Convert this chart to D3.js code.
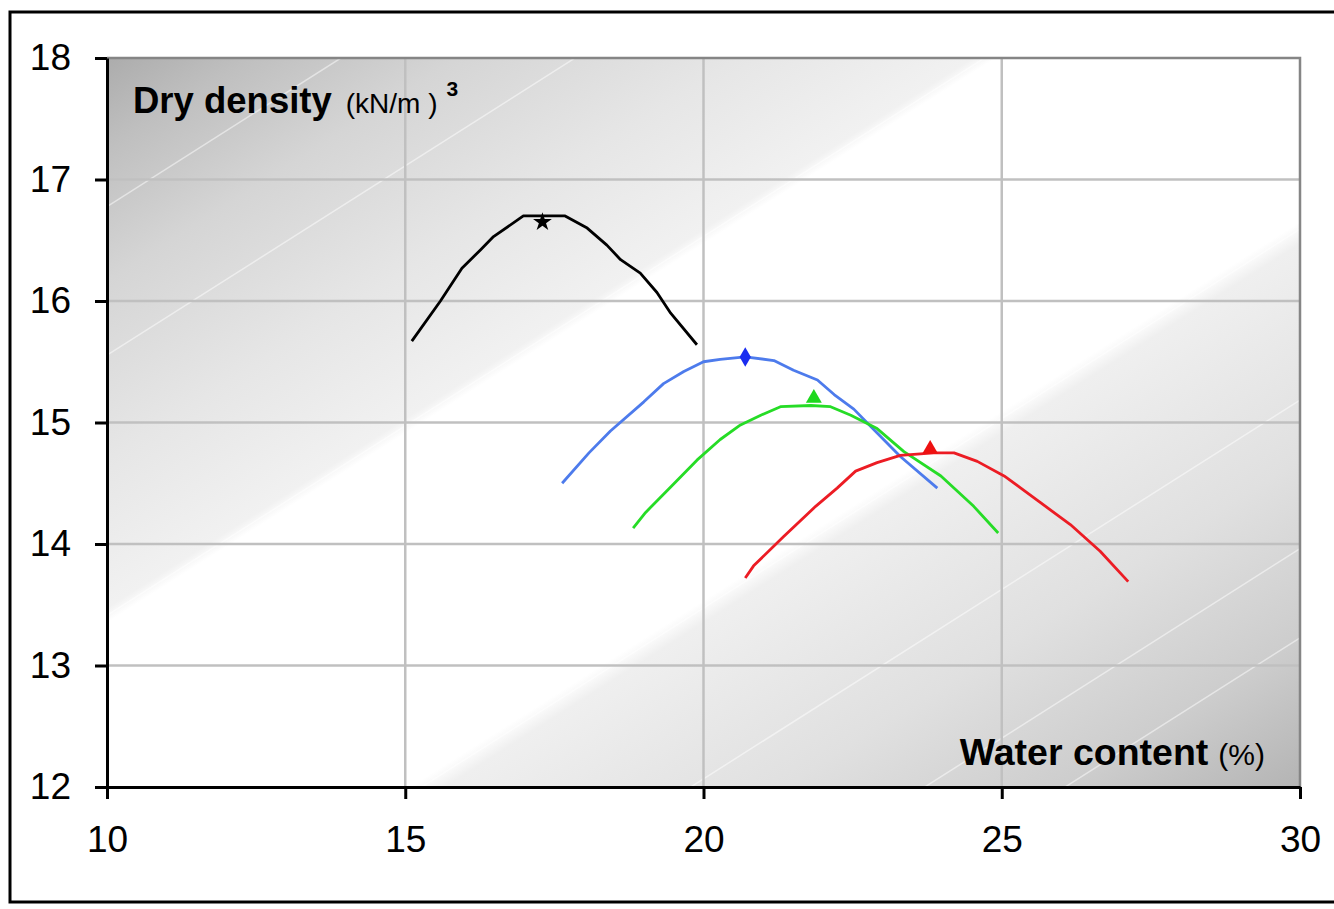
<!DOCTYPE html>
<html>
<head>
<meta charset="utf-8">
<script src="https://cdn.jsdelivr.net/npm/d3@7"></script>
<style>
  body { margin: 0; background: #fff; }
  text { font-family: "Liberation Sans", Arial, sans-serif; }
</style>
</head>
<body>
<script>
// compaction curves: water content (%) vs dry density (kN/m3)
var xTicks = [10, 15, 20, 25, 30];
var yTicks = [12, 13, 14, 15, 16, 17, 18];

var curveBlack = [[15.11,15.67],[15.59,16.0],[15.95,16.27],[16.26,16.42],[16.48,16.53],[16.98,16.70],
  [17.35,16.70],[17.68,16.70],[18.05,16.60],[18.38,16.46],[18.61,16.34],[18.94,16.23],[19.22,16.07],
  [19.45,15.90],[19.89,15.64]];
var curveBlue = [[17.63,14.50],[18.08,14.75],[18.44,14.93],[19.0,15.17],[19.33,15.32],[19.67,15.42],
  [20.0,15.50],[20.28,15.52],[20.70,15.54],[21.18,15.51],[21.51,15.43],[21.91,15.35],[22.19,15.23],
  [22.52,15.11],[22.80,14.97],[23.30,14.72],[23.92,14.46]];
var curveGreen = [[18.82,14.13],[19.03,14.26],[19.45,14.47],[19.89,14.69],[20.28,14.86],[20.62,14.98],
  [20.96,15.06],[21.29,15.13],[21.80,15.14],[22.13,15.13],[22.47,15.06],[22.91,14.95],[23.36,14.76],
  [23.98,14.56],[24.53,14.31],[24.94,14.09]];
var curveRed = [[20.70,13.72],[20.84,13.82],[21.34,14.06],[21.88,14.31],[22.24,14.46],[22.55,14.60],
  [22.91,14.67],[23.30,14.73],[23.86,14.75],[24.20,14.75],[24.59,14.68],[25.04,14.56],[25.32,14.46],
  [25.65,14.34],[26.15,14.16],[26.65,13.94],[27.12,13.69]];

// optimum points (marker on each curve)
var optimum = [
  {x: 17.3, y: 16.65, color: "#000000", shape: d3.symbolStar},
  {x: 20.7, y: 15.54, color: "#1a2cf0", shape: d3.symbolDiamond},
  {x: 21.85, y: 15.20, color: "#1ed81e", shape: d3.symbolTriangle},
  {x: 23.8, y: 14.78, color: "#ee1111", shape: d3.symbolTriangle}
];

var series = [
  {data: curveBlack, color: "#000000"},
  {data: curveBlue, color: "#4d7bec"},
  {data: curveGreen, color: "#26dc26"},
  {data: curveRed, color: "#ec1c24"}
];

var width = 1334, height = 909;
var pLeft = 107, pRight = 1300, pTop = 58, pBottom = 787;

var svg = d3.select('body').append('svg').attr('width', width).attr('height', height);

var x = d3.scaleLinear().domain([10, 30]).range([pLeft, pRight]);
var y = d3.scaleLinear().domain([12, 18]).range([pBottom, pTop]);

// outer frame
svg.append('rect').attr('x', 10).attr('y', 12).attr('width', 1340).attr('height', 890)
  .attr('fill', 'none').attr('stroke', '#000').attr('stroke-width', 3);

// diagonal background
var defs = svg.append('defs');
var dir = [0.536, 0.844];
var len = (pRight - pLeft) * dir[0] + (pBottom - pTop) * dir[1];
var grad = defs.append('linearGradient').attr('id', 'bg').attr('gradientUnits', 'userSpaceOnUse')
  .attr('x1', pLeft).attr('y1', pTop).attr('x2', pLeft + dir[0] * len).attr('y2', pTop + dir[1] * len);
[[0, '#acacac'], [0.06, '#bfbfbf'], [0.15, '#d5d5d5'], [0.27, '#e6e6e6'], [0.37, '#f1f1f1'], [0.38, '#ffffff'],
 [0.62, '#ffffff'], [0.635, '#efefef'], [0.78, '#e0e0e0'], [0.9, '#cdcdcd'], [1, '#b4b4b4']]
  .forEach(function(s) { grad.append('stop').attr('offset', s[0]).attr('stop-color', s[1]); });

defs.append('clipPath').attr('id', 'plotclip').append('rect')
  .attr('x', pLeft).attr('y', pTop).attr('width', pRight - pLeft).attr('height', pBottom - pTop);

svg.append('rect').attr('x', pLeft).attr('y', pTop).attr('width', pRight - pLeft).attr('height', pBottom - pTop)
  .attr('fill', 'url(#bg)');

// faint light streaks across the background
var streaks = svg.append('g').attr('clip-path', 'url(#plotclip)');
[0.1, 0.2, 0.375, 0.625, 0.74, 0.84, 0.9].forEach(function(f) {
  var cx = pLeft + dir[0] * len * f, cy = pTop + dir[1] * len * f;
  streaks.append('line')
    .attr('x1', cx - dir[1] * 2000).attr('y1', cy + dir[0] * 2000)
    .attr('x2', cx + dir[1] * 2000).attr('y2', cy - dir[0] * 2000)
    .attr('stroke', '#fff').attr('stroke-opacity', 0.5).attr('stroke-width', 1.5);
});

// grid
var grid = svg.append('g');
grid.selectAll('.gx').data(xTicks.slice(1, -1)).enter().append('line')
  .attr('x1', function(d){ return x(d); }).attr('x2', function(d){ return x(d); })
  .attr('y1', pTop).attr('y2', pBottom)
  .attr('stroke', '#c0c0c0').attr('stroke-width', 2.5);
grid.selectAll('.gy').data(yTicks.slice(1, -1)).enter().append('line')
  .attr('x1', pLeft).attr('x2', pRight)
  .attr('y1', function(d){ return y(d); }).attr('y2', function(d){ return y(d); })
  .attr('stroke', '#c0c0c0').attr('stroke-width', 2.5);

// plot frame top / right
svg.append('path').attr('d', 'M' + pLeft + ',' + pTop + 'H' + pRight + 'V' + pBottom)
  .attr('fill', 'none').attr('stroke', '#858585').attr('stroke-width', 2.5);

// curves
var line = d3.line().x(function(d){ return x(d[0]); }).y(function(d){ return y(d[1]); });
svg.selectAll('.curve').data(series).enter().append('path')
  .attr('d', function(d){ return line(d.data); })
  .attr('fill', 'none')
  .attr('stroke', function(d){ return d.color; })
  .attr('stroke-width', 2.8)
  .attr('stroke-linejoin', 'round');

svg.selectAll('.opt').data(optimum).enter().append('path')
  .attr('d', function(d){ return d3.symbol().type(d.shape).size(110)(); })
  .attr('transform', function(d){ return 'translate(' + x(d.x) + ',' + y(d.y) + ')'; })
  .attr('fill', function(d){ return d.color; });

// axes
var yAxis = d3.axisLeft(y).tickValues(yTicks).tickSize(12).tickSizeOuter(0).tickPadding(24)
  .tickFormat(d3.format('d'));
var xAxis = d3.axisBottom(x).tickValues(xTicks).tickSize(12).tickSizeOuter(0).tickPadding(27)
  .tickFormat(d3.format('d'));

var gy = svg.append('g').attr('transform', 'translate(' + pLeft + ',0)').call(yAxis);
var gx = svg.append('g').attr('transform', 'translate(0,' + pBottom + ')').call(xAxis);
[gx, gy].forEach(function(g) {
  g.select('.domain').attr('stroke', '#000').attr('stroke-width', 3);
  g.selectAll('.tick line').attr('stroke', '#000').attr('stroke-width', 3);
  g.selectAll('.tick text').attr('fill', '#000')
    .style('font-family', '"Liberation Sans", Arial, sans-serif').style('font-size', '37px');
});

// axis titles inside plot
var t1 = svg.append('text').attr('x', 133).attr('y', 113).attr('fill', '#000');
t1.append('tspan').attr('font-weight', 'bold').attr('font-size', 36.5).text('Dry density');
t1.append('tspan').attr('font-size', 28).attr('dx', 14).text('(kN/m )');
t1.append('tspan').attr('font-weight', 'bold').attr('font-size', 21).attr('dx', 9).attr('dy', -17).text('3');

var t2 = svg.append('text').attr('x', 1265).attr('y', 765).attr('text-anchor', 'end').attr('fill', '#000');
t2.append('tspan').attr('font-weight', 'bold').attr('font-size', 37.5).text('Water content');
t2.append('tspan').attr('font-size', 30).attr('dx', 10).text('(%)');
</script>
</body>
</html>
